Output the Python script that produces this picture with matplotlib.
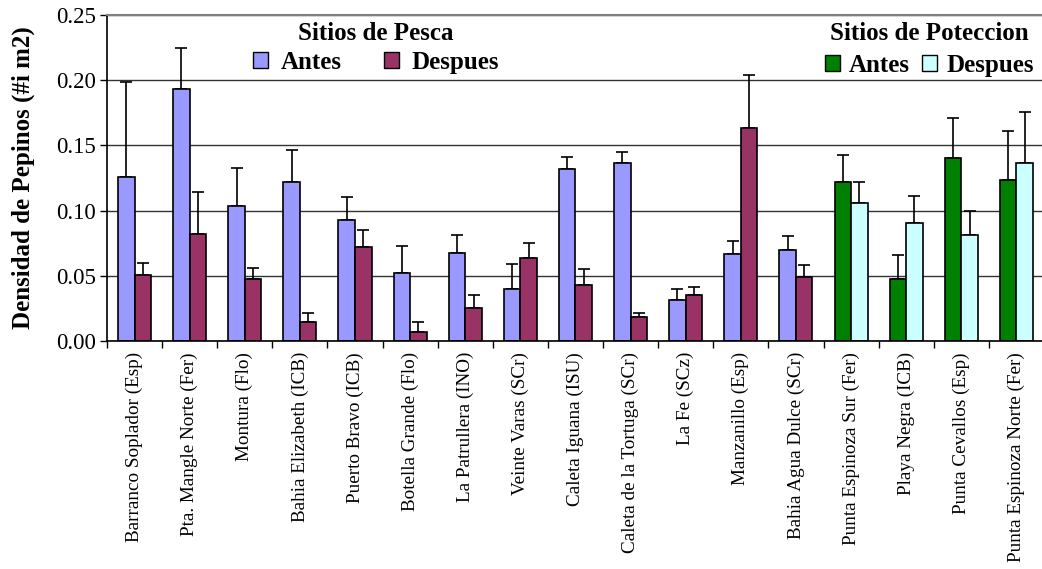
import matplotlib
matplotlib.use("Agg")
import matplotlib.pyplot as plt
from matplotlib.patches import Patch
import numpy as np

plt.rcParams['font.family'] = ['Liberation Serif', 'DejaVu Serif']

# sites (fishing sites first, then protected sites)
sitios = ['Barranco Soplador (Esp)', 'Pta. Mangle Norte (Fer)', 'Montura (Flo)',
          'Bahia Elizabeth (ICB)', 'Puerto Bravo (ICB)', 'Botella Grande (Flo)',
          'La Patrullera (INO)', 'Veinte Varas (SCr)', 'Caleta Iguana (ISU)',
          'Caleta de la Tortuga (SCr)', 'La Fe (SCz)', 'Manzanillo (Esp)',
          'Bahia Agua Dulce (SCr)', 'Punta Espinoza Sur (Fer)', 'Playa Negra (ICB)',
          'Punta Cevallos (Esp)', 'Punta Espinoza Norte (Fer)']
n_pesca = 13

antes = [0.1255, 0.193, 0.1035, 0.1222, 0.0928, 0.0524, 0.0672, 0.0401, 0.1317,
         0.1367, 0.0314, 0.067, 0.0695, 0.1219, 0.0475, 0.1403, 0.1232]
antes_err = [0.0735, 0.0314, 0.0294, 0.024, 0.0179, 0.0207, 0.0143, 0.0187, 0.0096,
             0.0085, 0.0087, 0.0099, 0.011, 0.0207, 0.0182, 0.0307, 0.0378]
despues = [0.0509, 0.0818, 0.0473, 0.0146, 0.0721, 0.0072, 0.0256, 0.0634, 0.0427,
           0.0182, 0.0353, 0.1636, 0.0491, 0.1061, 0.0902, 0.0815, 0.1367]
despues_err = [0.0087, 0.0327, 0.0087, 0.0069, 0.0133, 0.0071, 0.0097, 0.012, 0.0123,
               0.0035, 0.0061, 0.0401, 0.0092, 0.0158, 0.0208, 0.0184, 0.0389]

c_antes = ['#9999FF'] * n_pesca + ['#008000'] * (len(sitios) - n_pesca)
c_desp = ['#993366'] * n_pesca + ['#CCFFFF'] * (len(sitios) - n_pesca)

x = np.arange(len(sitios))
w = 0.3

fig = plt.figure(figsize=(10.42, 5.69), dpi=100)
ax = fig.add_axes([0.1027, 0.4007, 0.8992, 0.5729])

ax.set_axisbelow(True)
ax.yaxis.grid(True, color='#333333', linewidth=1.0)

ax.bar(x - w / 2, antes, w, color=c_antes, edgecolor='black', linewidth=1.2, zorder=2)
ax.bar(x + w / 2, despues, w, color=c_desp, edgecolor='black', linewidth=1.2, zorder=2)
ax.errorbar(x - w / 2, antes, yerr=[np.zeros(len(x)), antes_err], fmt='none',
            ecolor='black', elinewidth=1.2, capsize=4.5, capthick=1.2, zorder=1)
ax.errorbar(x + w / 2, despues, yerr=[np.zeros(len(x)), despues_err], fmt='none',
            ecolor='black', elinewidth=1.2, capsize=4.5, capthick=1.2, zorder=1)

ax.set_xlim(-0.5, len(sitios) - 0.5)
ax.set_ylim(0, 0.25)
ax.set_yticks(np.arange(0, 0.251, 0.05))
ax.set_yticklabels(['%.2f' % v for v in np.arange(0, 0.251, 0.05)], fontsize=16.5)

ax.set_xticks(np.arange(-0.5, len(sitios), 1.0))
ax.set_xticklabels([])
ax.set_xticks(x, minor=True)
ax.set_xticklabels(sitios, minor=True, rotation=90, fontsize=13.8)
ax.tick_params(axis='x', which='minor', length=0, pad=8)
ax.tick_params(axis='x', which='major', length=5, width=1, direction='out')
ax.tick_params(axis='y', length=5, width=1, direction='out', pad=3)

ax.spines['right'].set_visible(False)
ax.spines['top'].set_color('#808080')
ax.spines['top'].set_linewidth(1.5)
ax.spines['left'].set_linewidth(1.2)
ax.spines['bottom'].set_linewidth(1.2)

ax.set_ylabel('Densidad de Pepinos (#i m2)', fontsize=18, fontweight='bold', labelpad=15)

# legends
h1 = [Patch(facecolor='#9999FF', edgecolor='black', label='Antes'),
      Patch(facecolor='#993366', edgecolor='black', label='Despues')]
leg1 = ax.legend(handles=h1, title='Sitios de Pesca', ncol=2, frameon=False,
                 loc='upper center', bbox_to_anchor=(0.287, 1.026),
                 prop={'size': 18, 'weight': 'bold'}, handlelength=0.6, handleheight=0.6,
                 handletextpad=0.5, columnspacing=1.7, borderaxespad=0.2, labelspacing=0.26)
leg1.get_title().set_fontsize(18)
leg1.get_title().set_fontweight('bold')
ax.add_artist(leg1)

h2 = [Patch(facecolor='#008000', edgecolor='black', label='Antes'),
      Patch(facecolor='#CCFFFF', edgecolor='black', label='Despues')]
leg2 = ax.legend(handles=h2, title='Sitios de Poteccion', ncol=2, frameon=False,
                 loc='upper right', bbox_to_anchor=(1.005, 1.026),
                 prop={'size': 18, 'weight': 'bold'}, handlelength=0.6, handleheight=0.6,
                 handletextpad=0.35, columnspacing=0.52, borderaxespad=0.2, labelspacing=0.38)
leg2.get_title().set_fontsize(18)
leg2.get_title().set_fontweight('bold')

fig.savefig('out.png', dpi=100)
